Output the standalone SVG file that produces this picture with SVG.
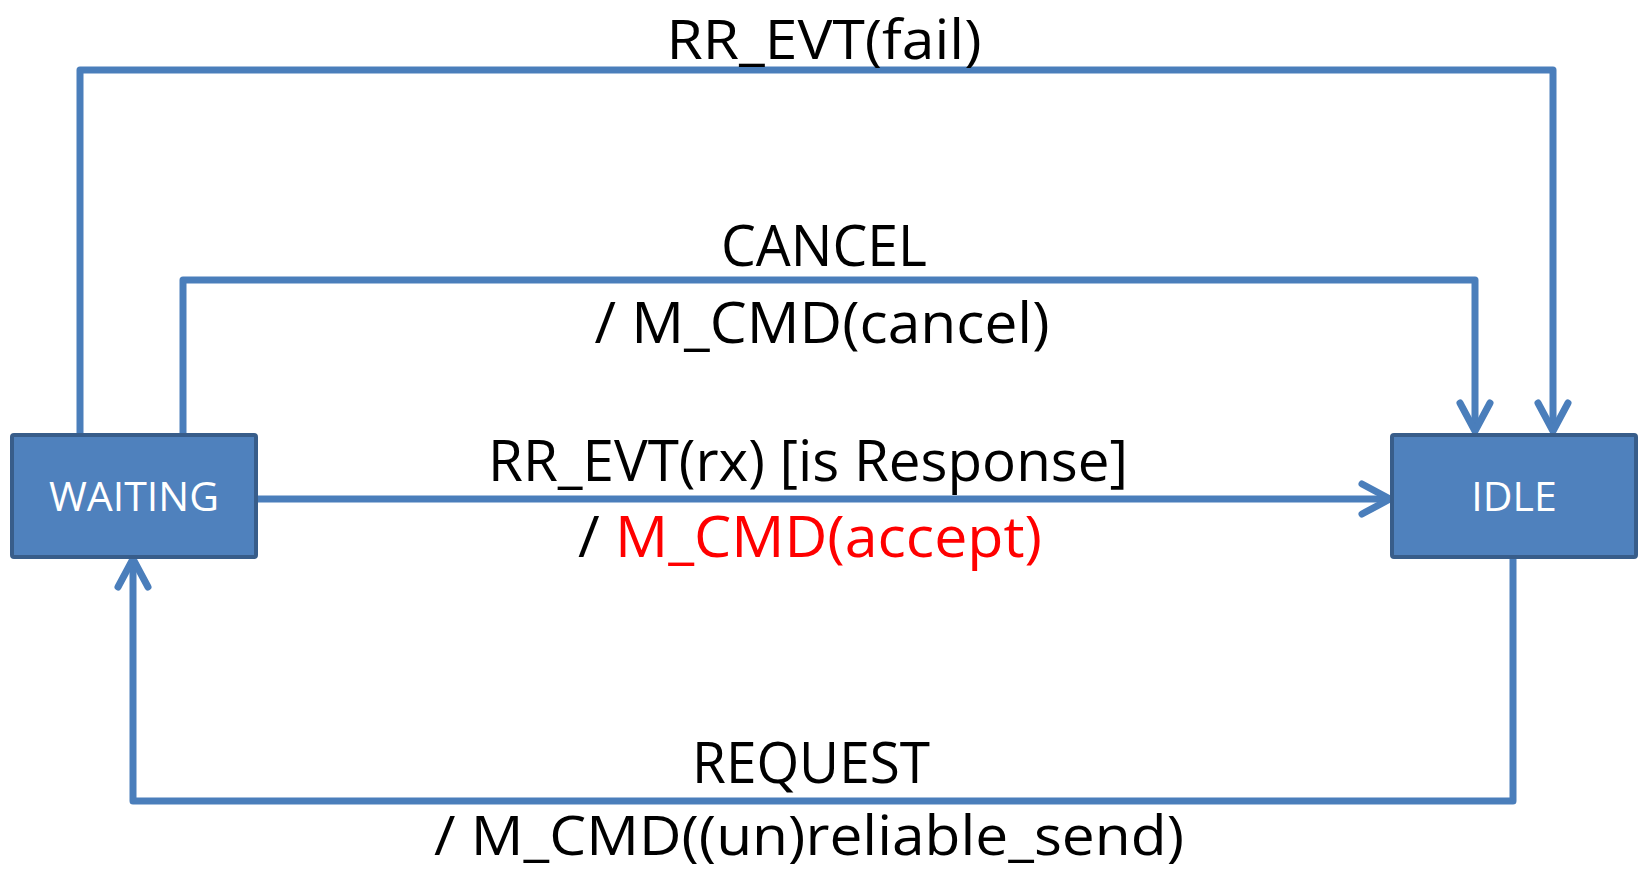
<svg xmlns="http://www.w3.org/2000/svg" width="1638" height="871" viewBox="0 0 1638 871">
<style>
.conn{fill:none;stroke:#4A7EBB;stroke-width:7;stroke-linejoin:round}
.head{fill:none;stroke:#4A7EBB;stroke-width:7;stroke-linecap:round;stroke-linejoin:round}
.box{fill:#4F81BD;stroke:#385D8A;stroke-width:4}
.lbl{font-family:"Open Sans","Noto Sans",sans-serif;font-size:57px;fill:#000;text-anchor:middle}
.edge{font-size:55px}
.nlbl{font-family:"Open Sans","Noto Sans",sans-serif;font-size:41px;fill:#fff;text-anchor:middle}
</style>
<rect width="1638" height="871" fill="#fff"/>
<g id="connectors">
<g id="c-fail">
<polyline class="conn" points="80,433 80,70 1553,70 1553,430"/>
<polyline class="head" points="1538,403 1553,431 1568,403"/>
</g>
<g id="c-cancel">
<polyline class="conn" points="183,433 183,280 1475,280 1475,430"/>
<polyline class="head" points="1460,403 1475,431 1490,403"/>
</g>
<g id="c-response">
<line class="conn" x1="256" y1="499" x2="1389" y2="499"/>
<polyline class="head" points="1362,484 1390,499 1362,514"/>
</g>
<g id="c-request">
<polyline class="conn" points="1513,557 1513,801 133,801 133,560"/>
<polyline class="head" points="118,587 133,559 148,587"/>
</g>
<text class="lbl edge" x="824" y="59" textLength="315" lengthAdjust="spacingAndGlyphs">RR_EVT(fail)</text>
<text class="lbl" x="824" y="266" textLength="206" lengthAdjust="spacingAndGlyphs">CANCEL</text>
<text class="lbl" x="822" y="343" textLength="455" lengthAdjust="spacingAndGlyphs">/ M_CMD(cancel)</text>
<text class="lbl" x="808" y="481" textLength="640" lengthAdjust="spacingAndGlyphs">RR_EVT(rx) [is Response]</text>
<text class="lbl" x="810" y="557" textLength="464" lengthAdjust="spacingAndGlyphs">/ <tspan fill="#FF0000">M_CMD(accept)</tspan></text>
<text class="lbl" x="811" y="783" textLength="238" lengthAdjust="spacingAndGlyphs">REQUEST</text>
<text class="lbl edge" x="809" y="855" textLength="750" lengthAdjust="spacingAndGlyphs">/ M_CMD((un)reliable_send)</text>
</g>
<g id="waiting">
<rect class="box" x="12" y="435" width="244" height="122" rx="2"/>
<text class="nlbl" x="134" y="511">WAITING</text>
</g>
<g id="idle">
<rect class="box" x="1392" y="435" width="244" height="122" rx="2"/>
<text class="nlbl" x="1514" y="511">IDLE</text>
</g>
</svg>
